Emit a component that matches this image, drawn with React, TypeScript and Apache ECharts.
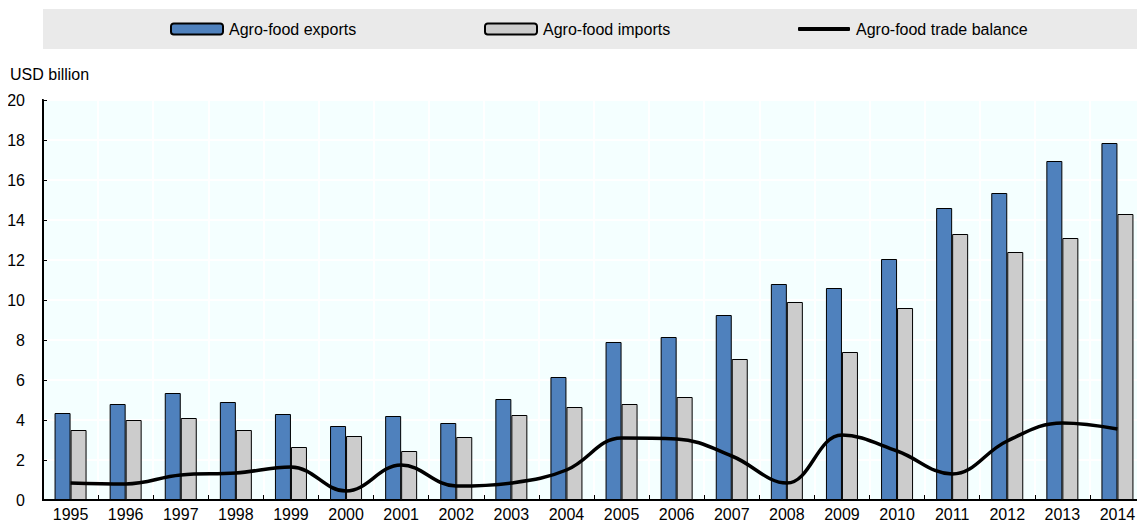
import React, { useEffect, useRef } from "react";
import * as echarts from "echarts";

const years = ["1995","1996","1997","1998","1999","2000","2001","2002","2003","2004","2005","2006","2007","2008","2009","2010","2011","2012","2013","2014"];
const exportsData = [4.35,4.8,5.35,4.9,4.3,3.7,4.2,3.85,5.05,6.15,7.9,8.15,9.25,10.8,10.6,12.05,14.6,15.35,16.95,17.85];
const importsData = [3.5,4.0,4.1,3.5,2.65,3.2,2.45,3.15,4.25,4.65,4.8,5.15,7.05,9.9,7.4,9.6,13.3,12.4,13.1,14.3];
const balanceData = [0.85,0.8,1.25,1.35,1.65,0.45,1.75,0.7,0.85,1.5,3.1,3.05,2.2,0.85,3.25,2.45,1.3,2.95,3.85,3.55];

const FONT = "'Liberation Sans', Arial, sans-serif";

export default function App() {
  const ref = useRef<HTMLDivElement>(null);
  useEffect(() => {
    if (!ref.current) return;
    const chart = echarts.init(ref.current, null, { renderer: "svg" });
    const legendText = { color: "#000", fontSize: 16, fontFamily: FONT, padding: [0, 0, 0, 1] };
    chart.setOption({
      animation: false,
      textStyle: { fontFamily: FONT },
      graphic: [
        { type: "rect", left: 43, top: 9, shape: { width: 1102, height: 40 }, style: { fill: "#EAEAEA" }, z: -10 },
        { type: "text", left: 10, top: 66, style: { text: "USD billion", fontSize: 16, fontFamily: FONT, fill: "#000" } },
      ],
      legend: [
        { data: ["Agro-food exports"], left: 170, top: 21, padding: 0, itemWidth: 52, itemHeight: 11, textStyle: legendText, itemGap: 0 },
        { data: ["Agro-food imports"], left: 484, top: 21, padding: 0, itemWidth: 52, itemHeight: 11, textStyle: legendText, itemGap: 0 },
        {
          data: [{ name: "Agro-food trade balance", icon: "roundRect" }],
          left: 798, top: 21, padding: 0, itemWidth: 52, itemHeight: 4,
          itemStyle: { color: "#000", borderWidth: 0 },
          textStyle: legendText, itemGap: 0,
        },
      ],
      grid: {
        left: 43, right: -6, top: 100, bottom: 25,
        show: true, backgroundColor: "#F4FFFF", borderColor: "#000", borderWidth: 2,
      },
      xAxis: {
        type: "category",
        data: years,
        boundaryGap: true,
        axisLine: { show: true, lineStyle: { color: "#000", width: 2 } },
        axisTick: { show: true, inside: true, length: 5, lineStyle: { color: "#000", width: 1 } },
        axisLabel: { color: "#000", fontSize: 16, fontFamily: FONT, margin: 6, interval: 0 },
        splitLine: { show: true, lineStyle: { color: "#FFFFFF", width: 2 } },
      },
      yAxis: {
        type: "value",
        min: 0, max: 20, interval: 2,
        axisLine: { show: true, lineStyle: { color: "#000", width: 2 } },
        axisTick: { show: true, inside: true, length: 4, lineStyle: { color: "#000", width: 1 } },
        axisLabel: { color: "#000", fontSize: 16, fontFamily: FONT, margin: 18 },
        splitLine: { show: true, lineStyle: { color: "#FFFFFF", width: 2 } },
      },
      series: [
        {
          name: "Agro-food exports", type: "bar", data: exportsData, barWidth: 16, barGap: "0%",
          itemStyle: { color: "#4F81BD", borderColor: "#000", borderWidth: 1 },
        },
        {
          name: "Agro-food imports", type: "bar", data: importsData, barWidth: 16, barGap: "0%",
          itemStyle: { color: "#CCCCCC", borderColor: "#000", borderWidth: 1 },
        },
        {
          name: "Agro-food trade balance", type: "line", data: balanceData, smooth: 0.4,
          symbol: "none", showSymbol: false,
          lineStyle: { color: "#000", width: 3.5 }, itemStyle: { color: "#000" }, z: 5,
        },
      ],
    });
    return () => chart.dispose();
  }, []);
  return <div ref={ref} style={{ width: 1145, height: 525, marginLeft: -8, marginTop: -8 }} />;
}
